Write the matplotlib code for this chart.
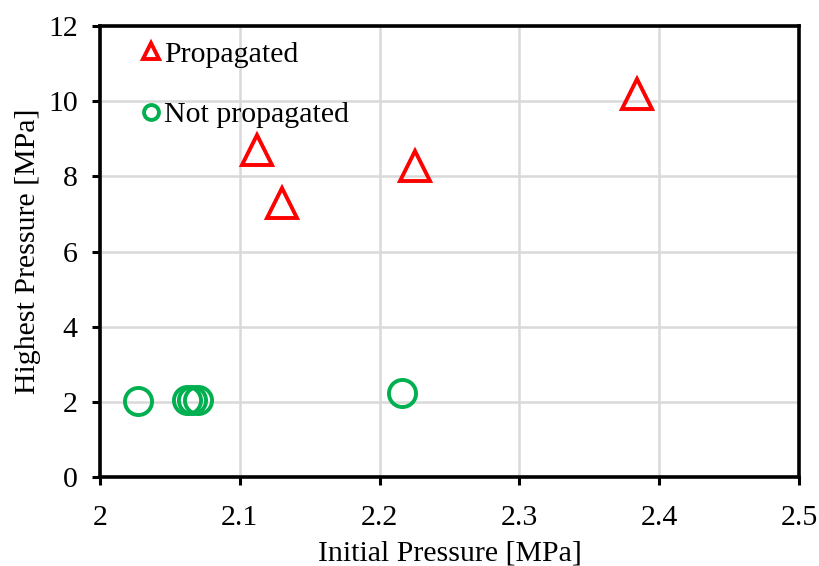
import numpy as np
import matplotlib
matplotlib.use('Agg')
import matplotlib.pyplot as plt

plt.rcParams['font.family'] = ['Liberation Serif', 'DejaVu Serif']

# propagated cases
prop_x = [2.112, 2.130, 2.225, 2.384]
prop_y = [8.70, 7.28, 8.28, 10.19]

# not propagated cases
notp_x = [2.027, 2.062, 2.066, 2.070, 2.216]
notp_y = [2.03, 2.05, 2.05, 2.05, 2.23]

xticks = [2, 2.1, 2.2, 2.3, 2.4, 2.5]
xticklabels = ['2', '2.1', '2.2', '2.3', '2.4', '2.5']
yticks = [0, 2, 4, 6, 8, 10, 12]

fig = plt.figure(figsize=(8.19, 5.66), dpi=100)
ax = fig.add_axes([0.1221, 0.1572, 0.8535, 0.7968])

ax.plot(prop_x, prop_y, linestyle='none', marker='^', ms=21, mfc='none',
        mec='#ff0000', mew=2.8, label='Propagated', zorder=3)
ax.plot(notp_x, notp_y, linestyle='none', marker='o', ms=19.5, mfc='none',
        mec='#00b050', mew=2.8, label='Not propagated', zorder=3)

ax.set_xlim(2, 2.5)
ax.set_ylim(0, 12)
ax.set_xticks(xticks)
ax.set_xticklabels(xticklabels)
ax.set_yticks(yticks)
ax.grid(True, color='#d9d9d9', linewidth=1.8)
ax.set_axisbelow(True)

for s in ax.spines.values():
    s.set_linewidth(2.6)
    s.set_color('black')

ax.tick_params(direction='out', length=6, width=2.2, labelsize=21.5)
ax.tick_params(axis='x', pad=14)
ax.tick_params(axis='y', pad=10)
ax.set_xlabel('Initial Pressure [MPa]', fontsize=21.5, labelpad=7)
ax.set_ylabel('Highest Pressure [MPa]', fontsize=21.5, labelpad=5)

leg = ax.legend(loc='upper left', frameon=False, fontsize=21.5, markerscale=0.55,
                handlelength=0.4, handletextpad=0.25, labelspacing=1.12,
                bbox_to_anchor=(0.026, 1.027))

fig.savefig('out.png', dpi=100)
